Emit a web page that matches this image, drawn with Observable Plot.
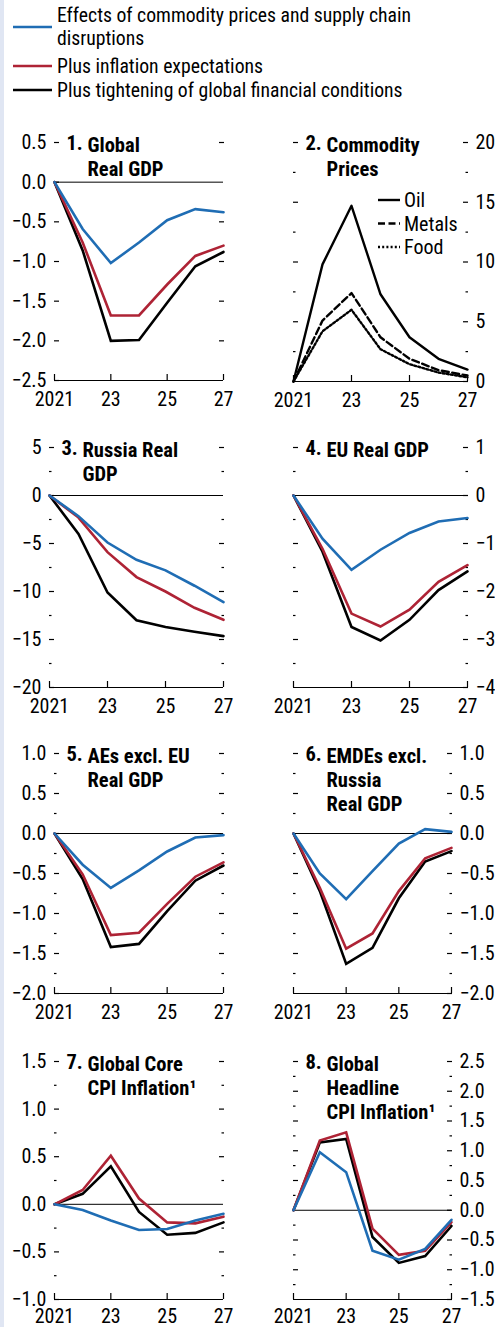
<!DOCTYPE html>
<html><head><meta charset="utf-8">
<script src="https://cdn.jsdelivr.net/npm/d3@7"></script>
<script src="https://cdn.jsdelivr.net/npm/@observablehq/plot@0.6"></script>
<style>
html,body{margin:0;padding:0;background:#fff;}
#root{position:relative;width:495px;height:1327px;overflow:hidden;background:#fff;}
#stripe{position:absolute;left:0;top:0;width:4px;height:1327px;background:#e0e6f3;}
#root svg{position:absolute;}
</style></head><body><div id="root"><div id="stripe"></div></div>
<script>
// ---------------- DATA ----------------
const years = [2021, 2022, 2023, 2024, 2025, 2026, 2027];
const xTicks = [2021, 2023, 2025, 2027];
const xTickLabels = ["2021", "23", "25", "27"];

const seriesNames = ["Effects of commodity prices and supply chain disruptions", "Plus inflation expectations", "Plus tightening of global financial conditions"];
const seriesLegendLines = [["Effects of commodity prices and supply chain", "disruptions"], ["Plus inflation expectations"], ["Plus tightening of global financial conditions"]];
const seriesColors = ["#1f6db4", "#ae2335", "#000000"];

// 1. Global Real GDP
const globalGdpCommodity = [0, -0.59, -1.02, -0.76, -0.48, -0.34, -0.38];
const globalGdpInflation = [0, -0.76, -1.68, -1.68, -1.29, -0.93, -0.80];
const globalGdpFinancial = [0, -0.86, -2.00, -1.99, -1.52, -1.06, -0.88];
const globalGdpTicks = [0.5, 0, -0.5, -1, -1.5, -2, -2.5];
const globalGdpTickLabels = ["0.5", "0.0", "−0.5", "−1.0", "−1.5", "−2.0", "−2.5"];

// 2. Commodity Prices
const commodityNames = ["Oil", "Metals", "Food"];
const oilPrices = [0, 9.8, 14.7, 7.3, 3.7, 1.9, 1.0];
const metalsPrices = [0, 5.1, 7.4, 3.7, 1.9, 0.95, 0.5];
const foodPrices = [0, 4.2, 6.0, 2.7, 1.45, 0.75, 0.35];
const commodityTicks = [20, 15, 10, 5, 0];
const commodityMinorTicks = [17.5, 12.5, 7.5, 2.5];
const commodityTickLabels = ["20", "15", "10", "5", "0"];

// 3. Russia Real GDP
const russiaGdpCommodity = [0, -2.15, -4.9, -6.7, -7.8, -9.4, -11.1];
const russiaGdpInflation = [0, -2.3, -5.9, -8.5, -10.0, -11.7, -12.95];
const russiaGdpFinancial = [0, -4.0, -10.1, -13.0, -13.7, -14.2, -14.65];
const russiaGdpTicks = [5, 0, -5, -10, -15, -20];
const russiaGdpMinorTicks = [2.5, -2.5, -7.5, -12.5, -17.5];
const russiaGdpTickLabels = ["5", "0", "−5", "−10", "−15", "−20"];

// 4. EU Real GDP
const euGdpCommodity = [0, -0.9, -1.55, -1.13, -0.78, -0.54, -0.47];
const euGdpInflation = [0, -1.11, -2.46, -2.73, -2.38, -1.80, -1.45];
const euGdpFinancial = [0, -1.17, -2.74, -3.02, -2.59, -1.97, -1.58];
const euGdpTicks = [1, 0, -1, -2, -3, -4];
const euGdpMinorTicks = [0.5, -0.5, -1.5, -2.5, -3.5];
const euGdpTickLabels = ["1", "0", "−1", "−2", "−3", "−4"];

// 5. AEs excl. EU Real GDP
const aeGdpCommodity = [0, -0.39, -0.68, -0.46, -0.225, -0.05, -0.02];
const aeGdpInflation = [0, -0.51, -1.27, -1.24, -0.88, -0.54, -0.36];
const aeGdpFinancial = [0, -0.57, -1.42, -1.38, -0.97, -0.59, -0.40];
const aeGdpTicks = [1, 0.5, 0, -0.5, -1, -1.5, -2];
const aeGdpMinorTicks = [0.75, 0.25, -0.25, -0.75, -1.25, -1.75];
const aeGdpTickLabels = ["1.0", "0.5", "0.0", "−0.5", "−1.0", "−1.5", "−2.0"];

// 6. EMDEs excl. Russia Real GDP
const emdeGdpCommodity = [0, -0.50, -0.82, -0.47, -0.125, 0.055, 0.02];
const emdeGdpInflation = [0, -0.68, -1.44, -1.25, -0.72, -0.31, -0.18];
const emdeGdpFinancial = [0, -0.72, -1.63, -1.43, -0.81, -0.35, -0.22];
const emdeGdpTicks = [1, 0.5, 0, -0.5, -1, -1.5, -2];
const emdeGdpMinorTicks = [0.75, 0.25, -0.25, -0.75, -1.25, -1.75];
const emdeGdpTickLabels = ["1.0", "0.5", "0.0", "−0.5", "−1.0", "−1.5", "−2.0"];

// 7. Global Core CPI Inflation
const coreCpiCommodity = [0, -0.06, -0.17, -0.27, -0.26, -0.17, -0.10];
const coreCpiInflation = [0, 0.15, 0.51, 0.06, -0.19, -0.20, -0.13];
const coreCpiFinancial = [0, 0.11, 0.40, -0.08, -0.32, -0.30, -0.19];
const coreCpiTicks = [1.5, 1, 0.5, 0, -0.5, -1];
const coreCpiMinorTicks = [1.25, 0.75, 0.25, -0.25, -0.75];
const coreCpiTickLabels = ["1.5", "1.0", "0.5", "0.0", "−0.5", "−1.0"];

// 8. Global Headline CPI Inflation
const headlineCpiCommodity = [0, 0.975, 0.64, -0.68, -0.83, -0.65, -0.16];
const headlineCpiInflation = [0, 1.17, 1.31, -0.31, -0.75, -0.68, -0.20];
const headlineCpiFinancial = [0, 1.14, 1.20, -0.45, -0.885, -0.77, -0.265];
const headlineCpiTicks = [2.5, 2, 1.5, 1, 0.5, 0, -0.5, -1, -1.5];
const headlineCpiMinorTicks = [2.25, 1.75, 1.25, 0.75, 0.25, -0.25, -0.75, -1.25];
const headlineCpiTickLabels = ["2.5", "2.0", "1.5", "1.0", "0.5", "0.0", "−0.5", "−1.0", "−1.5"];

// ---------------- LAYOUT / STYLE ----------------
const FONT = '"Liberation Sans Narrow", "Arial Narrow", "Roboto Condensed", "DejaVu Sans Condensed", sans-serif';
const FS = 20;
const TFS = 20.5;
const W = 495;
const root = document.getElementById("root");

function toRows(seriesArrays, names) {
  return seriesArrays.flatMap((arr, k) => years.map((year, i) => ({year, value: arr[i], series: names[k]})));
}

const panels = [
  {title: ["1.", "Global\nReal GDP"], series: [globalGdpCommodity, globalGdpInflation, globalGdpFinancial], ticks: globalGdpTicks, minor: [], labels: globalGdpTickLabels, side: "left", box: [54, 223, 142, 380]},
  {title: ["2.", "Commodity\nPrices"], commodity: [oilPrices, metalsPrices, foodPrices], ticks: commodityTicks, minor: commodityMinorTicks, labels: commodityTickLabels, side: "right", box: [293, 467, 142, 381], zero: false},
  {title: ["3.", "Russia Real\nGDP"], series: [russiaGdpCommodity, russiaGdpInflation, russiaGdpFinancial], ticks: russiaGdpTicks, minor: russiaGdpMinorTicks, labels: russiaGdpTickLabels, side: "left", box: [49, 223, 447, 687]},
  {title: ["4.", "EU Real GDP"], series: [euGdpCommodity, euGdpInflation, euGdpFinancial], ticks: euGdpTicks, minor: euGdpMinorTicks, labels: euGdpTickLabels, side: "right", box: [293, 467, 447, 687]},
  {title: ["5.", "AEs excl. EU\nReal GDP"], series: [aeGdpCommodity, aeGdpInflation, aeGdpFinancial], ticks: aeGdpTicks, minor: aeGdpMinorTicks, labels: aeGdpTickLabels, side: "left", box: [54, 223, 753, 993]},
  {title: ["6.", "EMDEs excl.\nRussia\nReal GDP"], series: [emdeGdpCommodity, emdeGdpInflation, emdeGdpFinancial], ticks: emdeGdpTicks, minor: emdeGdpMinorTicks, labels: emdeGdpTickLabels, side: "right", box: [293, 451, 753, 993]},
  {title: ["7.", "Global Core\nCPI Inflation¹"], series: [coreCpiCommodity, coreCpiInflation, coreCpiFinancial], ticks: coreCpiTicks, minor: coreCpiMinorTicks, labels: coreCpiTickLabels, side: "left", box: [54, 223, 1061, 1299], xPad: 15},
  {title: ["8.", "Global\nHeadline\nCPI Inflation¹"], series: [headlineCpiCommodity, headlineCpiInflation, headlineCpiFinancial], ticks: headlineCpiTicks, minor: headlineCpiMinorTicks, labels: headlineCpiTickLabels, side: "right", box: [293, 451, 1061, 1299], xPad: 15}
];

const xLabelMap = new Map(xTicks.map((t, i) => [t, xTickLabels[i]]));
const MT = 50, MB = 32;

panels.forEach((p) => {
  const [left, right, top, bottom] = p.box;
  const yMin = d3.min(p.ticks), yMax = d3.max(p.ticks);
  const labelMap = new Map(p.ticks.map((t, i) => [t, p.labels[i]]));
  const other = p.side === "left" ? "right" : "left";
  const marks = [];
  if (p.zero !== false) marks.push(Plot.ruleY([0], {stroke: "#000", strokeWidth: 1}));
  marks.push(Plot.ruleY([yMin], {stroke: "#000", strokeWidth: 1.2}));
  marks.push(Plot.axisY(p.ticks, {anchor: p.side, tickSize: -5, tickPadding: 13, tickFormat: (d) => labelMap.get(d), label: null, fontSize: FS, strokeWidth: 1.2}));
  marks.push(Plot.axisY(p.ticks.filter(t => t !== 0 && t !== yMin), {anchor: other, tickSize: -5, tickFormat: () => "", label: null, strokeWidth: 1.2}));
  if (p.minor.length) {
    marks.push(Plot.axisY(p.minor, {anchor: "left", tickSize: -2.5, tickFormat: () => "", label: null, strokeWidth: 1.2}));
    marks.push(Plot.axisY(p.minor, {anchor: "right", tickSize: -2.5, tickFormat: () => "", label: null, strokeWidth: 1.2}));
  }
  marks.push(Plot.axisX(xTicks, {anchor: "bottom", tickSize: -6, tickPadding: p.xPad ?? 17, tickFormat: (d) => xLabelMap.get(d), label: null, fontSize: FS, strokeWidth: 1.2}));
  if (p.series) {
    const rows = toRows(p.series, seriesNames);
    [2, 1, 0].forEach((k) => {
      marks.push(Plot.line(rows.filter(r => r.series === seriesNames[k]), {x: "year", y: "value", stroke: seriesColors[k], strokeWidth: 2.6, strokeLinejoin: "miter", strokeMiterlimit: 4}));
    });
  } else {
    const rows = toRows(p.commodity, commodityNames);
    const dashes = [null, "7,3.5", "2,2.2"];
    commodityNames.forEach((name, k) => {
      marks.push(Plot.line(rows.filter(r => r.series === name), {x: "year", y: "value", stroke: "#000", strokeWidth: 2.4, strokeDasharray: dashes[k]}));
    });
  }
  marks.push(Plot.text([p.title[0]], {text: d => d, frameAnchor: "top-left", dx: 12, dy: -7, lineAnchor: "top", textAnchor: "start", fontWeight: "bold", fontSize: TFS}));
  marks.push(Plot.text([p.title[1]], {text: d => d, frameAnchor: "top-left", dx: 33, dy: -7, lineAnchor: "top", textAnchor: "start", fontWeight: "bold", fontSize: TFS, lineHeight: 1.16}));

  const chart = Plot.plot({
    width: W,
    height: (bottom - top) + MT + MB,
    marginLeft: left,
    marginRight: W - right,
    marginTop: MT,
    marginBottom: MB,
    x: {domain: [2021, 2027]},
    y: {domain: [yMin, yMax]},
    style: {fontFamily: FONT, fontSize: FS + "px", background: "transparent", overflow: "visible", color: "#000"},
    marks
  });
  chart.style.left = "0px";
  chart.style.top = (top - MT) + "px";
  root.appendChild(chart);
});

// top legend
const leg = d3.create("svg").attr("width", W).attr("height", 105).style("left", "0px").style("top", "0px")
  .style("font-family", FONT).style("font-size", "19.7px");
const legY = [27, 66, 90];
seriesLegendLines.forEach((lines, k) => {
  leg.append("line").attr("x1", 13).attr("x2", 52).attr("y1", legY[k]).attr("y2", legY[k]).attr("stroke", seriesColors[k]).attr("stroke-width", 2.6);
  const t = leg.append("text").attr("x", 57).attr("y", legY[k] - (lines.length - 1) * 11.5);
  lines.forEach((ln, j) => t.append("tspan").attr("x", 57).attr("dy", j === 0 ? "0.35em" : "23px").text(ln));
});
root.appendChild(leg.node());

// commodity legend (panel 2)
const cl = d3.create("svg").attr("width", 120).attr("height", 80).style("left", "370px").style("top", "185px")
  .style("font-family", FONT).style("font-size", FS + "px");
const clDash = [null, "7,3.5", "2,2.2"];
commodityNames.forEach((name, k) => {
  const y = 15 + k * 23.5;
  cl.append("line").attr("x1", 8).attr("x2", 30).attr("y1", y).attr("y2", y).attr("stroke", "#000").attr("stroke-width", 2.4).attr("stroke-dasharray", clDash[k]);
  cl.append("text").attr("x", 34).attr("y", y).attr("dy", "0.35em").text(name);
});
root.appendChild(cl.node());
</script>
</body></html>
